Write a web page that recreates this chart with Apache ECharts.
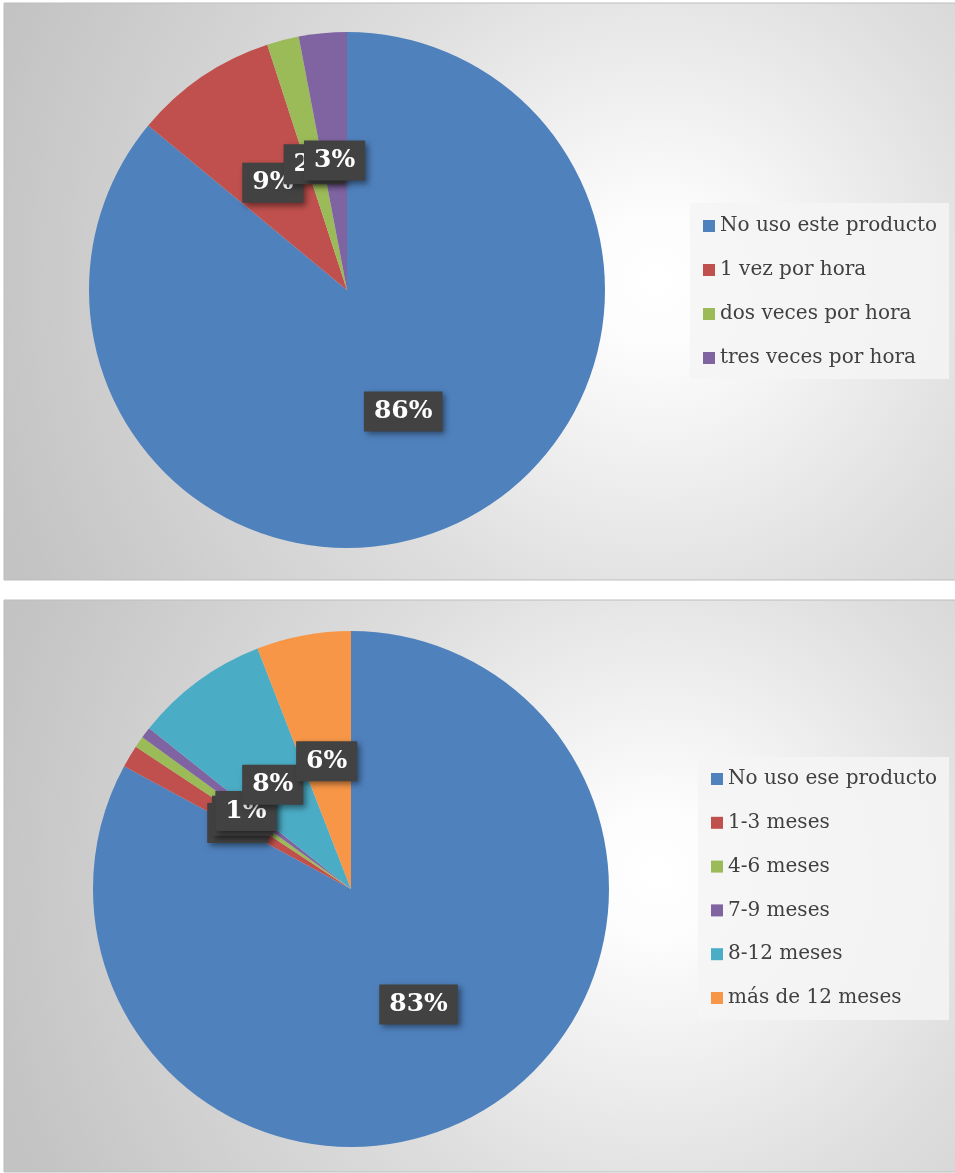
<!DOCTYPE html>
<html>
<head>
<meta charset="utf-8">
<script src="https://cdn.jsdelivr.net/npm/echarts@6/dist/echarts.min.js"></script>
<style>
html,body{margin:0;padding:0;background:#ffffff;}
#c{width:955px;height:1173px;}
</style>
</head>
<body>
<div id="c"></div>
<script>
// Chart 1: frequency of use
const cats1 = ['No uso este producto', '1 vez por hora', 'dos veces por hora', 'tres veces por hora'];
const vals1 = [86, 9, 2, 3];
const colors1 = ['#4f81bd', '#c0504d', '#9bbb59', '#8064a2'];

// Chart 2: duration
const cats2 = ['No uso ese producto', '1-3 meses', '4-6 meses', '7-9 meses', '8-12 meses', 'más de 12 meses'];
const vals2 = [82.9, 1.4, 0.7, 0.7, 8.4, 5.9];
const colors2 = ['#4f81bd', '#c0504d', '#9bbb59', '#8064a2', '#4bacc6', '#f79646'];

const chart = echarts.init(document.getElementById('c'), null, {renderer: 'canvas'});

const serif = 'DejaVu Serif';

function bgGrad() {
  return {
    type: 'radial', x: 0.68, y: 0.48, r: 1.2,
    colorStops: [
      {offset: 0, color: '#ffffff'},
      {offset: 0.1, color: '#fcfcfc'},
      {offset: 0.5, color: '#dedede'},
      {offset: 1, color: '#c3c3c3'}
    ]
  };
}

const labelStyle = {
  show: true,
  position: 'inside',
  formatter: function (p) { return Math.round(p.percent) + '%'; },
  fontFamily: serif,
  fontWeight: 'bold',
  fontSize: 25,
  color: '#ffffff',
  backgroundColor: '#424242',
  padding: [8, 10, 7, 10],
  offset: [0, 2],
  shadowColor: 'rgba(0,0,0,0.45)',
  shadowBlur: 6,
  shadowOffsetX: 3,
  shadowOffsetY: 3
};

function legendCfg(names, left, top, padding, gap, textGap) {
  return {
    data: names,
    orient: 'vertical',
    left: left,
    top: top,
    icon: 'rect',
    itemWidth: 12,
    itemHeight: 12,
    itemGap: gap,
    itemTextGap: textGap,
    padding: padding,
    backgroundColor: 'rgba(244,244,244,0.85)',
    selectedMode: false,
    textStyle: {fontFamily: serif, fontSize: 20, color: '#404040', lineHeight: 20}
  };
}

const option = {
  animation: false,
  graphic: [
    {type: 'rect', shape: {x: 4, y: 3, width: 960, height: 577}, style: {fill: bgGrad(), stroke: '#bdbdbd', lineWidth: 1}, z: -10},
    {type: 'rect', shape: {x: 4, y: 600, width: 960, height: 572}, style: {fill: bgGrad(), stroke: '#bdbdbd', lineWidth: 1}, z: -10}
  ],
  legend: [
    legendCfg(cats1, 690, 203, [13, 12, 11, 13], 24, 6),
    legendCfg(cats2, 698, 757, [12, 12, 12, 13], 23.8, 7)
  ],
  series: [
    {
      type: 'pie',
      center: [347, 290],
      radius: 258,
      startAngle: 90,
      clockwise: true,
      avoidLabelOverlap: false,
      silent: true,
      label: labelStyle,
      labelLine: {show: false},
      labelLayout: {hideOverlap: false},
      data: cats1.map((n, i) => ({name: n, value: vals1[i], itemStyle: {color: colors1[i]}}))
    },
    {
      type: 'pie',
      center: [351, 889],
      radius: 258,
      startAngle: 90,
      clockwise: true,
      avoidLabelOverlap: false,
      silent: true,
      label: labelStyle,
      labelLine: {show: false},
      labelLayout: {hideOverlap: false},
      data: cats2.map((n, i) => ({name: n, value: vals2[i], itemStyle: {color: colors2[i]}}))
    }
  ]
};

chart.setOption(option);
</script>
</body>
</html>
